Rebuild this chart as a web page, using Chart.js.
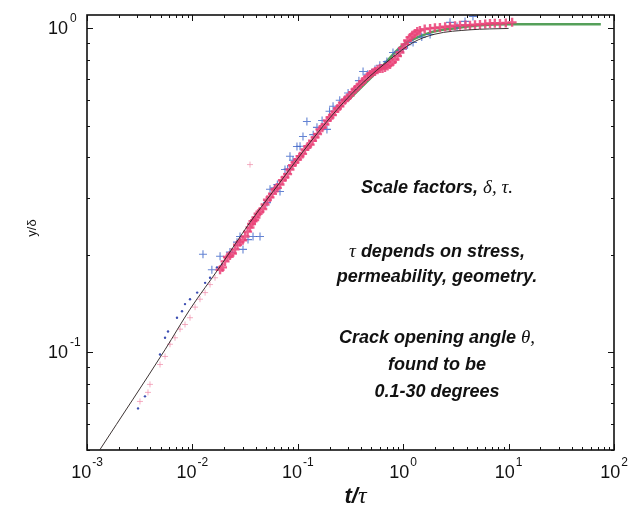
<!DOCTYPE html>
<html>
<head>
<meta charset="utf-8">
<script src="https://cdn.jsdelivr.net/npm/chart.js@4.4.1/dist/chart.umd.min.js"></script>
<style>
  html, body { margin: 0; padding: 0; background: #fff; }
  #wrap { width: 635px; height: 522px; }
</style>
</head>
<body>
<div id="wrap"><canvas id="fitChart" width="635" height="522"></canvas></div>
<script>
// values (t/tau on x, y/delta on y)

var lineT = [0.00133, 0.0055, 0.0095, 0.0183, 0.0352, 0.0678, 0.131, 0.236, 0.416, 0.75, 1.24, 2.0, 4.3, 10];
var lineY = [0.0502, 0.102, 0.136, 0.184, 0.252, 0.335, 0.445, 0.562, 0.681, 0.802, 0.905, 0.96, 0.99, 1.0];

var greenT = [0.3, 0.6, 1.0, 1.5, 2.0, 3.0, 5.0, 10, 20, 40, 75];
var greenY = [0.60, 0.75, 0.89, 0.95, 0.98, 1.0, 1.02, 1.03, 1.03, 1.03, 1.03];

var pinkLowT = [0.00318, 0.00379, 0.00396, 0.00493, 0.0055, 0.00613, 0.00684, 0.00763, 0.00851, 0.00949, 0.0106, 0.0118, 0.0132, 0.0147, 0.0164, 0.0352];
var pinkLowY = [0.0706, 0.0753, 0.0797, 0.0918, 0.0972, 0.106, 0.111, 0.118, 0.122, 0.128, 0.138, 0.146, 0.153, 0.162, 0.170, 0.380];

var pinkT = [0.0183, 0.0204, 0.0227, 0.0254, 0.0283, 0.0316, 0.0352, 0.0376, 0.0401, 0.0438, 0.0489, 0.0545, 0.0608, 0.0678,
             0.0756, 0.0843, 0.094, 0.105, 0.117, 0.131, 0.146, 0.162, 0.181, 0.202, 0.225, 0.251, 0.280, 0.313, 0.349,
             0.389, 0.434, 0.484, 0.540, 0.602, 0.672, 0.750, 0.836, 0.932, 1.04, 1.16, 1.29, 1.44, 1.80, 2.23, 2.78,
             3.46, 4.30, 5.35, 6.66, 8.28, 10.8];
var pinkY = [0.180, 0.191, 0.199, 0.208, 0.219, 0.228, 0.243, 0.254, 0.261, 0.272, 0.286, 0.301, 0.319, 0.330,
             0.347, 0.367, 0.386, 0.403, 0.423, 0.438, 0.461, 0.488, 0.505, 0.531, 0.554, 0.575, 0.600, 0.621, 0.648,
             0.671, 0.696, 0.721, 0.736, 0.752, 0.758, 0.774, 0.802, 0.843, 0.893, 0.938, 0.965, 0.986, 1.0, 1.007, 1.014,
             1.022, 1.022, 1.029, 1.036, 1.036, 1.044];

var pink2T = [0.0193, 0.0215, 0.0240, 0.0268, 0.0300, 0.0334, 0.0364, 0.0390, 0.0420, 0.0465, 0.0515, 0.0575, 0.0640, 0.0715,
              0.0800, 0.0890, 0.0995, 0.111, 0.124, 0.138, 0.154, 0.171, 0.191, 0.213, 0.238, 0.265, 0.296, 0.331, 0.369,
              0.411, 0.459, 0.512, 0.571, 0.636, 0.710, 0.792, 0.883, 0.985, 1.10, 1.22, 1.36, 1.60, 2.00, 2.50, 3.10,
              3.90, 4.80, 6.00, 7.40, 9.40];
var pink2Y = [0.183, 0.197, 0.202, 0.215, 0.222, 0.236, 0.249, 0.256, 0.268, 0.277, 0.296, 0.309, 0.322, 0.340,
              0.355, 0.378, 0.394, 0.410, 0.432, 0.450, 0.472, 0.494, 0.520, 0.540, 0.566, 0.590, 0.611, 0.636, 0.660,
              0.686, 0.710, 0.730, 0.746, 0.752, 0.766, 0.787, 0.822, 0.870, 0.918, 0.952, 0.978, 0.995, 1.004, 1.012, 1.020,
              1.024, 1.026, 1.032, 1.038, 1.040];

var blueT = [0.0126, 0.0153, 0.0183, 0.0227, 0.0265, 0.0283, 0.0302, 0.0337, 0.0376, 0.0438, 0.0510, 0.0545, 0.0678, 0.0756,
             0.0843, 0.0982, 0.112, 0.122, 0.152, 0.189, 0.216, 0.280, 0.349, 0.416, 0.540, 0.672, 0.800, 0.996, 1.24,
             1.80, 2.78, 3.24, 3.86, 4.59,
             0.0600, 0.0640, 0.0800, 0.0900, 0.105, 0.140, 0.170, 0.200, 0.250, 0.300, 0.380, 0.460, 0.600, 0.700,
             0.900, 1.10, 1.50];
var blueY = [0.201, 0.180, 0.198, 0.204, 0.219, 0.228, 0.208, 0.223, 0.228, 0.228, 0.290, 0.319, 0.314, 0.367,
             0.403, 0.432, 0.464, 0.516, 0.495, 0.488, 0.575, 0.604, 0.648, 0.736, 0.747, 0.774, 0.843, 0.862, 0.905,
             0.958, 1.044, 1.014, 1.051, 1.089,
             0.322, 0.330, 0.368, 0.392, 0.433, 0.470, 0.520, 0.555, 0.600, 0.632, 0.690, 0.722, 0.770, 0.790,
             0.850, 0.890, 0.940];

var dotT = [0.00305, 0.00355, 0.00493, 0.0055, 0.00587, 0.00714, 0.00797, 0.00851, 0.00949, 0.0111, 0.0132, 0.0147, 0.0171, 0.0191];
var dotY = [0.0672, 0.0732, 0.0986, 0.111, 0.116, 0.128, 0.134, 0.141, 0.146, 0.153, 0.164, 0.170, 0.183, 0.187];

var xTicks = [0.001, 0.01, 0.1, 1, 10, 100];
var xTickExp = ["-3", "-2", "-1", "0", "1", "2"];
var yTicks = [0.1, 1];
var yTickExp = ["-1", "0"];

var notes = [
    [["Scale factors, ", "b"], ["\u03B4, \u03C4.", "g"]],
    [["\u03C4", "g"], [" depends on stress,", "b"]],
    [["permeability, geometry.", "b"]],
    [["Crack opening angle ", "b"], ["\u03B8,", "g"]],
    [["found to be", "b"]],
    [["0.1-30 degrees", "b"]]
];
var noteY = [188, 252, 277, 338, 365, 392];

function pts(xs, ys) {
    return xs.map(function (x, i) { return { x: x, y: ys[i] }; });
}

var SANS = '"Liberation Sans", Arial, Helvetica, sans-serif';
var SERIF = '"Liberation Serif", "Times New Roman", serif';

var axesPlugin = {
    id: "matlabAxes",
    afterDatasetsDraw: function (chart) {
        var ctx = chart.ctx;
        var a = chart.chartArea;
        var xs = chart.scales.x;
        var ys = chart.scales.y;
        ctx.save();
        ctx.strokeStyle = "#111";
        ctx.lineWidth = 1;

        // x ticks, bottom and top, pointing inwards
        for (var d = -3; d <= 2; d++) {
            for (var k = 1; k <= 9; k++) {
                var v = k * Math.pow(10, d);
                if (v > 100.0001) break;
                var px = Math.round(xs.getPixelForValue(v)) + 0.5;
                var len = (k === 1) ? 6 : 3;
                ctx.beginPath();
                ctx.moveTo(px, a.bottom); ctx.lineTo(px, a.bottom - len);
                ctx.moveTo(px, a.top); ctx.lineTo(px, a.top + len);
                ctx.stroke();
            }
        }
        // y ticks, left and right
        var yMinor = [0.05, 0.06, 0.07, 0.08, 0.09, 0.1, 0.2, 0.3, 0.4, 0.5, 0.6, 0.7, 0.8, 0.9, 1.0];
        yMinor.forEach(function (v) {
            var py = Math.round(ys.getPixelForValue(v)) + 0.5;
            var len = (v === 0.1 || v === 1.0) ? 6 : 3;
            ctx.beginPath();
            ctx.moveTo(a.left, py); ctx.lineTo(a.left + len, py);
            ctx.moveTo(a.right, py); ctx.lineTo(a.right - len, py);
            ctx.stroke();
        });

        // frame
        ctx.lineWidth = 1.6;
        ctx.strokeRect(a.left, a.top, a.right - a.left, a.bottom - a.top);

        // tick labels 10^n
        ctx.fillStyle = "#111";
        ctx.textBaseline = "alphabetic";
        var baseFont = "18px " + SANS;
        var expFont = "12px " + SANS;
        xTicks.forEach(function (v, i) {
            var px = xs.getPixelForValue(v);
            ctx.font = baseFont;
            var wb = ctx.measureText("10").width;
            ctx.font = expFont;
            var we = ctx.measureText(xTickExp[i]).width;
            var x0 = px - (wb + 1 + we) / 2;
            ctx.font = baseFont;
            ctx.textAlign = "left";
            ctx.fillText("10", x0, a.bottom + 28);
            ctx.font = expFont;
            ctx.fillText(xTickExp[i], x0 + wb + 1, a.bottom + 16);
        });
        yTicks.forEach(function (v, i) {
            var py = ys.getPixelForValue(v);
            ctx.font = baseFont;
            ctx.textAlign = "right";
            ctx.fillText("10", a.left - 19, py + 6);
            ctx.font = expFont;
            ctx.textAlign = "left";
            ctx.fillText(yTickExp[i], a.left - 17, py - 6);
        });

        // axis titles
        ctx.textAlign = "left";
        ctx.font = "bold italic 22px " + SANS;
        var w1 = ctx.measureText("t/").width;
        ctx.font = "italic 24px " + SERIF;
        var w2 = ctx.measureText("\u03C4").width;
        var cx = (a.left + a.right) / 2 + 5;
        ctx.font = "bold italic 22px " + SANS;
        ctx.fillText("t/", cx - (w1 + w2) / 2, 503);
        ctx.font = "italic 24px " + SERIF;
        ctx.fillText("\u03C4", cx - (w1 + w2) / 2 + w1, 503);

        ctx.save();
        ctx.translate(36, 228);
        ctx.rotate(-Math.PI / 2);
        ctx.textAlign = "center";
        ctx.font = "13px " + SANS;
        ctx.fillText("y/\u03B4", 0, 0);
        ctx.restore();

        // annotation text block
        ctx.textBaseline = "middle";
        notes.forEach(function (line, li) {
            var total = 0;
            line.forEach(function (run) {
                ctx.font = run[1] === "b" ? "bold italic 18px " + SANS : "italic 19px " + SERIF;
                total += ctx.measureText(run[0]).width;
            });
            var x = 437 - total / 2;
            line.forEach(function (run) {
                ctx.font = run[1] === "b" ? "bold italic 18px " + SANS : "italic 19px " + SERIF;
                ctx.fillText(run[0], x, noteY[li]);
                x += ctx.measureText(run[0]).width;
            });
        });
        ctx.restore();
    }
};

var pinkColor = "rgba(234,66,120,0.85)";

var fitChart = new Chart("fitChart", {
    type: "scatter",
    data: {
        datasets: [
            {
                label: "fit",
                data: pts(lineT, lineY),
                showLine: true,
                borderColor: "rgba(40,30,30,0.9)",
                borderWidth: 1,
                pointRadius: 0,
                cubicInterpolationMode: "monotone",
                order: 0
            },
            {
                label: "pink",
                data: pts(pinkT, pinkY),
                pointStyle: "cross",
                pointRadius: 4.5,
                pointBorderWidth: 2.4,
                pointBorderColor: pinkColor,
                order: 1
            },
            {
                label: "pink2",
                data: pts(pink2T, pink2Y),
                pointStyle: "cross",
                pointRadius: 4.5,
                pointBorderWidth: 2.4,
                pointBorderColor: pinkColor,
                order: 1
            },
            {
                label: "pinkLow",
                data: pts(pinkLowT, pinkLowY),
                pointStyle: "cross",
                pointRadius: 3,
                pointBorderWidth: 1,
                pointBorderColor: "rgba(240,140,170,0.7)",
                order: 2
            },
            {
                label: "blue",
                data: pts(blueT, blueY),
                pointStyle: "cross",
                pointRadius: 4,
                pointBorderWidth: 1.1,
                pointBorderColor: "rgba(60,100,200,0.8)",
                order: 2
            },
            {
                label: "blueDots",
                data: pts(dotT, dotY),
                pointStyle: "circle",
                pointRadius: 1.2,
                pointBorderWidth: 0,
                pointBackgroundColor: "rgba(40,60,170,0.9)",
                order: 2
            },
            {
                label: "green",
                data: pts(greenT, greenY),
                showLine: true,
                borderColor: "rgb(85,160,90)",
                borderWidth: 2.5,
                pointRadius: 0,
                cubicInterpolationMode: "monotone",
                order: 3
            }
        ]
    },
    options: {
        responsive: false,
        animation: false,
        devicePixelRatio: 1,
        layout: { padding: { left: 0, right: 21, top: 15, bottom: 0 } },
        plugins: {
            legend: { display: false },
            tooltip: { enabled: false }
        },
        scales: {
            x: {
                type: "logarithmic",
                min: 0.001,
                max: 100,
                grid: { display: false },
                border: { display: false },
                ticks: { display: false },
                afterFit: function (s) { s.height = 72; }
            },
            y: {
                type: "logarithmic",
                min: 0.05,
                max: 1.1,
                grid: { display: false },
                border: { display: false },
                ticks: { display: false },
                afterFit: function (s) { s.width = 87; }
            }
        }
    },
    plugins: [axesPlugin]
});
</script>
</body>
</html>
